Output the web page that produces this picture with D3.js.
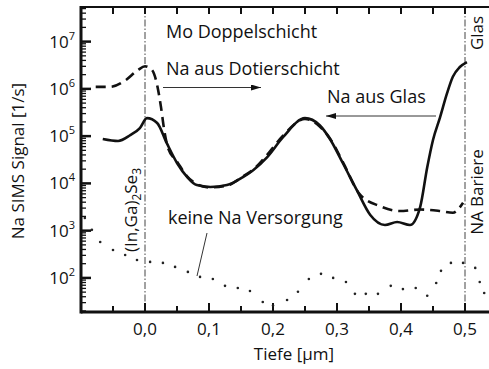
<!DOCTYPE html>
<html>
<head>
<meta charset="utf-8">
<script src="https://cdn.jsdelivr.net/npm/d3@7"></script>
<style>
  body { margin: 0; background: #fff; }
  svg text { font-family: "Open Sans", sans-serif; fill: #111; }
</style>
</head>
<body>
<div id="chart"></div>
<script>
// values (depth in µm, Na SIMS signal in 1/s)
const solidX = [-0.066, -0.042, -0.023, -0.008, 0.003, 0.019, 0.034, 0.05, 0.066, 0.081, 0.102, 0.128, 0.153, 0.169, 0.191, 0.216, 0.25, 0.273, 0.289, 0.309, 0.331, 0.352, 0.375, 0.394, 0.414, 0.43, 0.441, 0.45, 0.461, 0.472, 0.481, 0.492, 0.503];
const solidY = [8.7e4, 7.9e4, 1.05e5, 1.48e5, 2.4e5, 1.9e5, 7.1e4, 2.7e4, 1.36e4, 9.2e3, 8.4e3, 9.2e3, 1.36e4, 1.9e4, 3.6e4, 9.6e4, 2.4e5, 1.7e5, 8.7e4, 2.7e4, 7.2e3, 2.15e3, 1.32e3, 1.53e3, 1.32e3, 3.2e3, 2.2e4, 8.3e4, 2.5e5, 8.1e5, 1.8e6, 2.9e6, 3.7e6];

const dashedX = [-0.077, -0.055, -0.031, -0.011, 0.0, 0.011, 0.019, 0.025, 0.03, 0.036, 0.05, 0.065, 0.08, 0.1, 0.128, 0.153, 0.17, 0.19, 0.215, 0.25, 0.273, 0.29, 0.31, 0.335, 0.367, 0.398, 0.43, 0.461, 0.481, 0.497];
const dashedY = [1.1e6, 1.1e6, 1.5e6, 2.5e6, 3.0e6, 2.5e6, 1.2e6, 4.1e5, 1.35e5, 5.6e4, 2.9e4, 1.45e4, 9.8e3, 8.2e3, 9.0e3, 1.4e4, 2.0e4, 3.9e4, 1.0e5, 2.3e5, 1.6e5, 8.5e4, 2.7e4, 6e3, 3.3e3, 2.6e3, 2.8e3, 2.6e3, 2.4e3, 3.9e3];

const dottedX = [-0.094, -0.083, -0.070, -0.050, -0.031, -0.0125, 0.008, 0.028, 0.047, 0.067, 0.086, 0.106, 0.125, 0.145, 0.164, 0.184, 0.2, 0.222, 0.239, 0.256, 0.275, 0.294, 0.314, 0.328, 0.345, 0.364, 0.384, 0.403, 0.423, 0.441, 0.455, 0.4625, 0.478, 0.497, 0.516, 0.523, 0.53];
const dottedY = [1850, 1040, 577, 391, 306, 240, 218, 208, 171, 134, 105, 95, 68, 61, 53, 31, 26, 34, 51, 95, 122, 100, 82, 46, 46, 46, 68, 58, 61, 42, 78, 141, 208, 208, 163, 82, 48];

const xTicks = [0, 0.1, 0.2, 0.3, 0.4, 0.5];
const xTickLabels = ["0,0", "0,1", "0,2", "0,3", "0,4", "0,5"];
const yExponents = [2, 3, 4, 5, 6, 7];
const markerX = [0, 0.5];

const width = 489, height = 369;
const plotLeft = 81, plotTop = 7, plotBottom = 312;

const x = d3.scaleLinear().domain([-0.1, 0.55]).range([plotLeft, plotLeft + 0.65 * 640]);
const y = d3.scaleLog().domain([19, 5.4e7]).range([plotBottom, plotTop]);

const svg = d3.select("#chart").append("svg")
    .attr("width", width).attr("height", height);

// dash-dot interface markers
svg.selectAll(".marker").data(markerX).enter().append("line")
    .attr("x1", d => x(d)).attr("x2", d => x(d))
    .attr("y1", plotTop).attr("y2", plotBottom)
    .attr("stroke", "#444").attr("stroke-width", 1)
    .attr("stroke-dasharray", "7,2,1.5,2");

// frame
svg.append("line").attr("x1", plotLeft).attr("x2", width).attr("y1", plotTop).attr("y2", plotTop)
    .attr("stroke", "#111").attr("stroke-width", 2);
svg.append("line").attr("x1", plotLeft).attr("x2", width).attr("y1", plotBottom).attr("y2", plotBottom)
    .attr("stroke", "#111").attr("stroke-width", 3);
svg.append("line").attr("x1", plotLeft).attr("x2", plotLeft).attr("y1", plotTop - 1).attr("y2", plotBottom + 1.5)
    .attr("stroke", "#111").attr("stroke-width", 3);

// x ticks (bottom up, top down), minor at 0.05
const xAll = d3.range(-0.05, 0.551, 0.05);
xAll.forEach(v => {
    const major = Math.abs(Math.round(v * 10) - v * 10) < 1e-6;
    if (x(v) > width) return;
    svg.append("line").attr("x1", x(v)).attr("x2", x(v))
        .attr("y1", plotBottom).attr("y2", plotBottom - (major ? 9 : 6))
        .attr("stroke", "#111").attr("stroke-width", 2);
    svg.append("line").attr("x1", x(v)).attr("x2", x(v))
        .attr("y1", plotTop).attr("y2", plotTop + 7)
        .attr("stroke", "#111").attr("stroke-width", 2);
});

svg.selectAll(".xlab").data(xTicks).enter().append("text")
    .attr("x", d => x(d)).attr("y", 335)
    .attr("text-anchor", "middle").attr("font-size", 17)
    .text((d, i) => xTickLabels[i]);

// y ticks, log minors
for (let e = 1; e <= 7; e++) {
    for (let m = 1; m <= 9; m++) {
        const v = m * Math.pow(10, e);
        if (v < y.domain()[0] || v > y.domain()[1]) continue;
        svg.append("line").attr("x1", plotLeft).attr("x2", plotLeft + (m === 1 ? 10 : 5))
            .attr("y1", y(v)).attr("y2", y(v))
            .attr("stroke", "#111").attr("stroke-width", m === 1 ? 2.5 : 1.3);
    }
}

const ylab = svg.selectAll(".ylab").data(yExponents).enter().append("text")
    .attr("x", 75).attr("y", d => y(Math.pow(10, d)) + 6)
    .attr("text-anchor", "end").attr("font-size", 17);
ylab.append("tspan").text("10");
ylab.append("tspan").attr("dy", -8).attr("font-size", 11).text(d => d);

// axis titles
svg.append("text").attr("x", 294).attr("y", 360)
    .attr("text-anchor", "middle").attr("font-size", 17).text("Tiefe [µm]");
svg.append("text").attr("transform", "translate(24,161) rotate(-90)")
    .attr("text-anchor", "middle").attr("font-size", 17).text("Na SIMS Signal [1/s]");

// curves
const line = d3.line().x(d => x(d[0])).y(d => y(d[1])).curve(d3.curveMonotoneX);

svg.append("path").datum(dashedX.map((v, i) => [v, dashedY[i]]))
    .attr("d", line).attr("fill", "none")
    .attr("stroke", "#111").attr("stroke-width", 2.6)
    .attr("stroke-dasharray", "10,6");

svg.append("path").datum(solidX.map((v, i) => [v, solidY[i]]))
    .attr("d", line).attr("fill", "none")
    .attr("stroke", "#111").attr("stroke-width", 2.6);

svg.selectAll(".dot").data(dottedX.map((v, i) => [v, dottedY[i]])).enter().append("circle")
    .attr("cx", d => x(d[0])).attr("cy", d => y(d[1])).attr("r", 1.3)
    .attr("fill", "#222");

// annotations
svg.append("text").attr("x", 166).attr("y", 38).attr("font-size", 18).text("Mo Doppelschicht");
svg.append("text").attr("x", 166).attr("y", 75).attr("font-size", 18).text("Na aus Dotierschicht");
svg.append("text").attr("x", 327).attr("y", 103).attr("font-size", 18).text("Na aus Glas");
svg.append("text").attr("x", 168).attr("y", 224).attr("font-size", 18).text("keine Na Versorgung");

svg.append("defs").append("marker").attr("id", "head")
    .attr("viewBox", "0 0 10 6").attr("refX", 10).attr("refY", 3)
    .attr("markerWidth", 10).attr("markerHeight", 6).attr("markerUnits", "userSpaceOnUse")
    .attr("orient", "auto")
    .append("path").attr("d", "M0,0L10,3L0,6Z").attr("fill", "#111");

svg.append("line").attr("x1", 163).attr("x2", 261).attr("y1", 87.5).attr("y2", 87.5)
    .attr("stroke", "#333").attr("stroke-width", 1).attr("marker-end", "url(#head)");
svg.append("line").attr("x1", 436).attr("x2", 326).attr("y1", 116).attr("y2", 116)
    .attr("stroke", "#333").attr("stroke-width", 1).attr("marker-end", "url(#head)");
svg.append("line").attr("x1", 207).attr("x2", 197).attr("y1", 233).attr("y2", 276)
    .attr("stroke", "#333").attr("stroke-width", 1);

// rotated layer labels
const ingase = svg.append("text").attr("transform", "translate(137,210) rotate(-90)")
    .attr("text-anchor", "middle").attr("font-size", 17);
ingase.append("tspan").text("(In,Ga)");
ingase.append("tspan").attr("dy", 4).attr("font-size", 12).text("2");
ingase.append("tspan").attr("dy", -4).text("Se");
ingase.append("tspan").attr("dy", 4).attr("font-size", 12).text("3");

svg.append("text").attr("transform", "translate(483,33) rotate(-90)")
    .attr("text-anchor", "middle").attr("font-size", 17).text("Glas");
svg.append("text").attr("transform", "translate(483,192) rotate(-90)")
    .attr("text-anchor", "middle").attr("font-size", 17).text("NA Bariere");
</script>
</body>
</html>
